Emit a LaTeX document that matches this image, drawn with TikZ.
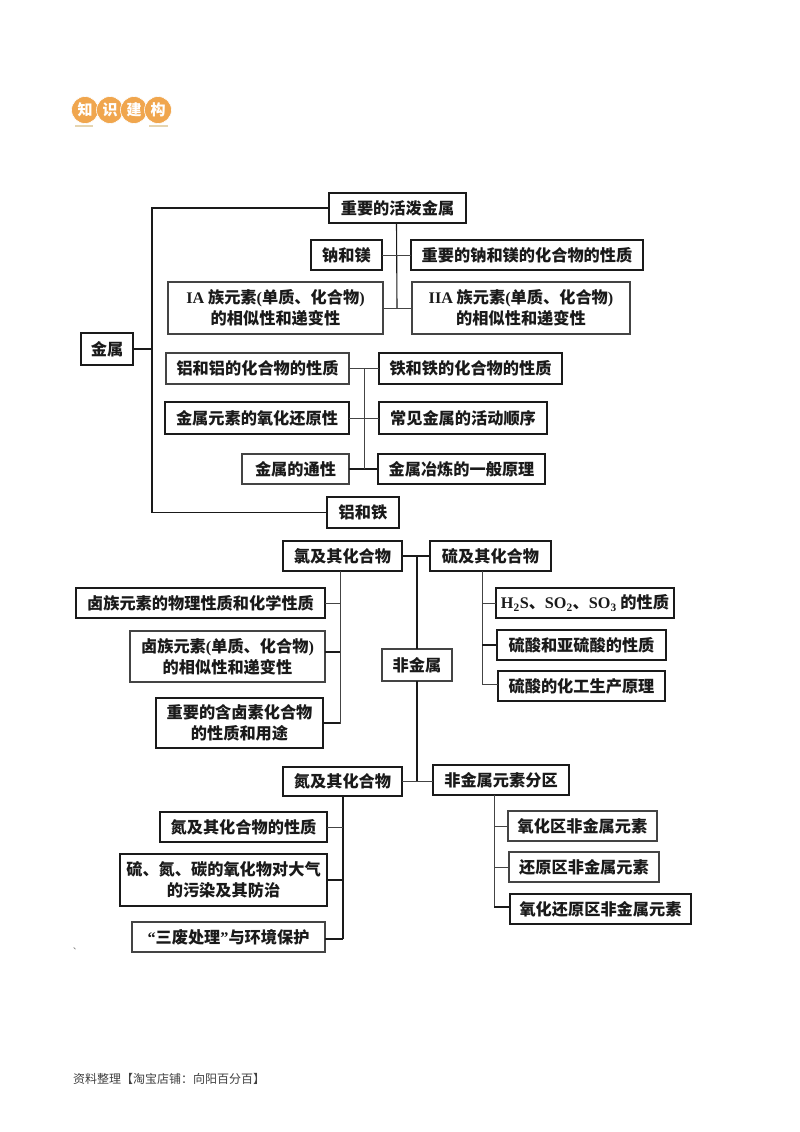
\documentclass[tikz,border=0pt]{standalone}
\usepackage{fontspec}
\newfontfamily\cjk{Noto Sans CJK SC}
\newfontfamily\ser{Liberation Serif}
\definecolor{inkc}{HTML}{1A1A1A}
\definecolor{softc}{HTML}{444444}
\definecolor{badge}{HTML}{F0A64E}
\definecolor{rulec}{HTML}{E6D5B0}
\tikzset{
  box/.style={draw=inkc,line width=1.1pt,fill=white,inner sep=0pt,outer sep=0pt,align=center,text=inkc,
    font=\cjk\bfseries\fontsize{16.2}{21}\selectfont},
  softbox/.style={box,draw=softc,line width=1.15pt},
  link/.style={draw=inkc,line width=1.1pt},
  softlink/.style={draw=softc,line width=.9pt},
  coin/.style={circle,fill=badge,draw=white,line width=.6pt,minimum size=27pt,inner sep=0pt,text=white,
    font=\cjk\bfseries\fontsize{15}{15}\selectfont},
  note/.style={inner sep=0pt,anchor=west,text=black!75,font=\cjk\fontsize{12}{14}\selectfont}
}
\newcommand{\bx}[7][box]{\node[#1,minimum width={(#5-#3)*1pt},minimum height={(#6-#4)*1pt}] (#2) at ({(#3+#5)/2},{(#4+#6)/2}) {#7};}
\newcommand{\lat}[1]{{\ser\bfseries #1}}
\begin{document}
\begin{tikzpicture}[x=1pt,y=-1pt]
\fill[white] (0,0) rectangle (800,1132);
\useasboundingbox (0,0) rectangle (800,1132);
% badge
\fill[rulec] (75,125) rectangle (93,127);
\fill[rulec] (149,125) rectangle (168,127);
\node[coin] (b1) at (85,110) {知};
\node[coin] (b2) at (110,110) {识};
\node[coin] (b3) at (134,110) {建};
\node[coin] (b4) at (158,110) {构};
% coordinates of the trunks
\coordinate (tr) at (152,349);
\coordinate (up) at (397,308);
\coordinate (ma) at (364,368);
\coordinate (mb) at (364,469);
\coordinate (cross) at (417,556);
\coordinate (nlow) at (417,781);
\coordinate (la) at (340,724);
\coordinate (ra) at (482,684);
\coordinate (lb) at (343,939);
\coordinate (rb) at (494,907);
\coordinate (jx) at (340,652);
% metal part
\bx{zy}{329}{193}{466}{223}{重要的活泼金属}
\bx{na}{311}{240}{382}{270}{钠和镁}
\bx{nah}{411}{240}{643}{270}{重要的钠和镁的化合物的性质}
\bx[softbox]{ia}{168}{282}{383}{334}{\lat{IA} 族元素\lat{(}单质、化合物\lat{)}\\的相似性和递变性}
\bx[softbox]{iia}{412}{282}{630}{334}{\lat{IIA} 族元素\lat{(}单质、化合物\lat{)}\\的相似性和递变性}
\bx{js}{81}{333}{133}{365}{金属}
\bx[softbox]{al}{166}{353}{349}{384}{铝和铝的化合物的性质}
\bx{fe}{379}{353}{562}{384}{铁和铁的化合物的性质}
\bx{yh}{165}{402}{349}{434}{金属元素的氧化还原性}
\bx{hd}{379}{402}{547}{434}{常见金属的活动顺序}
\bx[softbox]{tx}{242}{454}{349}{484}{金属的通性}
\bx{yl}{378}{454}{545}{484}{金属冶炼的一般原理}
\bx{lt}{327}{497}{399}{528}{铝和铁}
\draw[link] (zy.west) -| (tr) |- (lt.west);
\draw[link] (js.east) -- (tr);
\draw[link] (zy.south) ++(-1,0) -- (up);
\draw[softlink] (na.east) -- (nah.west);
\draw[softlink] (ia.east) -- (iia.west);
\draw[softlink] (al.east) -- (fe.west);
\draw[softlink] (yh.east) -- (hd.west);
\draw[link] (tx.east) -- (yl.west);
\draw[softlink] (ma) -- (mb);
% non-metal part
\bx{cl}{283}{541}{402}{571}{氯及其化合物}
\bx{s}{430}{541}{551}{571}{硫及其化合物}
\bx{x1}{76}{588}{325}{618}{卤族元素的物理性质和化学性质}
\bx[softbox]{x2}{130}{631}{325}{682}{卤族元素\lat{(}单质、化合物\lat{)}\\的相似性和递变性}
\bx{x3}{156}{698}{323}{748}{重要的含卤素化合物\\的性质和用途}
\bx{h2}{496}{588}{674}{618}{\lat{H\textsubscript{2}S}、\lat{SO\textsubscript{2}}、\lat{SO\textsubscript{3}} 的性质}
\bx{su}{497}{630}{666}{660}{硫酸和亚硫酸的性质}
\bx{gy}{498}{671}{665}{701}{硫酸的化工生产原理}
\bx[softbox]{fj}{382}{649}{452}{681}{非金属}
\draw[link] (cl.east) -- (s.west);
\draw[link] (cross) -- (fj.north -| cross);
\draw[link] (fj.south -| nlow) -- (nlow);
\draw[softlink] (cl.south -| la) -- (la);
\draw[softlink] (x1.east) -- (x1.east -| la);
\draw[link] (x2.east |- jx) -- (jx);
\draw[link] (x3.east) -- (x3.east -| la);
\draw[softlink] (s.south -| ra) -- (ra);
\draw[softlink] (h2.west) -- (h2.west -| ra);
\draw[link] (su.west) -- (su.west -| ra);
\draw[softlink] (gy.west |- ra) -- (ra);
\bx{n}{283}{767}{402}{796}{氮及其化合物}
\bx{fq}{433}{765}{569}{795}{非金属元素分区}
\bx{y1}{160}{812}{327}{842}{氮及其化合物的性质}
\bx{y2}{120}{854}{327}{906}{硫、氮、碳的氧化物对大气\\的污染及其防治}
\bx[softbox]{y3}{132}{922}{325}{952}{\lat{“}三废处理\lat{”}与环境保护}
\bx[softbox]{z1}{508}{811}{657}{841}{氧化区非金属元素}
\bx[softbox]{z2}{509}{852}{659}{882}{还原区非金属元素}
\bx{z3}{510}{894}{691}{924}{氧化还原区非金属元素}
\draw[softlink] (n.east |- nlow) -- (fq.west |- nlow);
\draw[link] (n.south -| lb) -- (lb);
\draw[softlink] (y1.east) -- (y1.east -| lb);
\draw[link] (y2.east) -- (y2.east -| lb);
\draw[link] (y3.east |- lb) -- (lb);
\draw[softlink] (fq.south -| rb) -- (rb);
\draw[softlink] (z1.west) -- (z1.west -| rb);
\draw[softlink] (z2.west) -- (z2.west -| rb);
\draw[link] (z3.west |- rb) -- (rb);
% small marks and footer
\node[inner sep=0pt,text=black!60,font=\cjk\fontsize{8}{8}\selectfont] (dot) at (77,949) {、};
\node[note] (foot) at (73,1079) {资料整理【淘宝店铺：向阳百分百】};
\end{tikzpicture}
\end{document}
